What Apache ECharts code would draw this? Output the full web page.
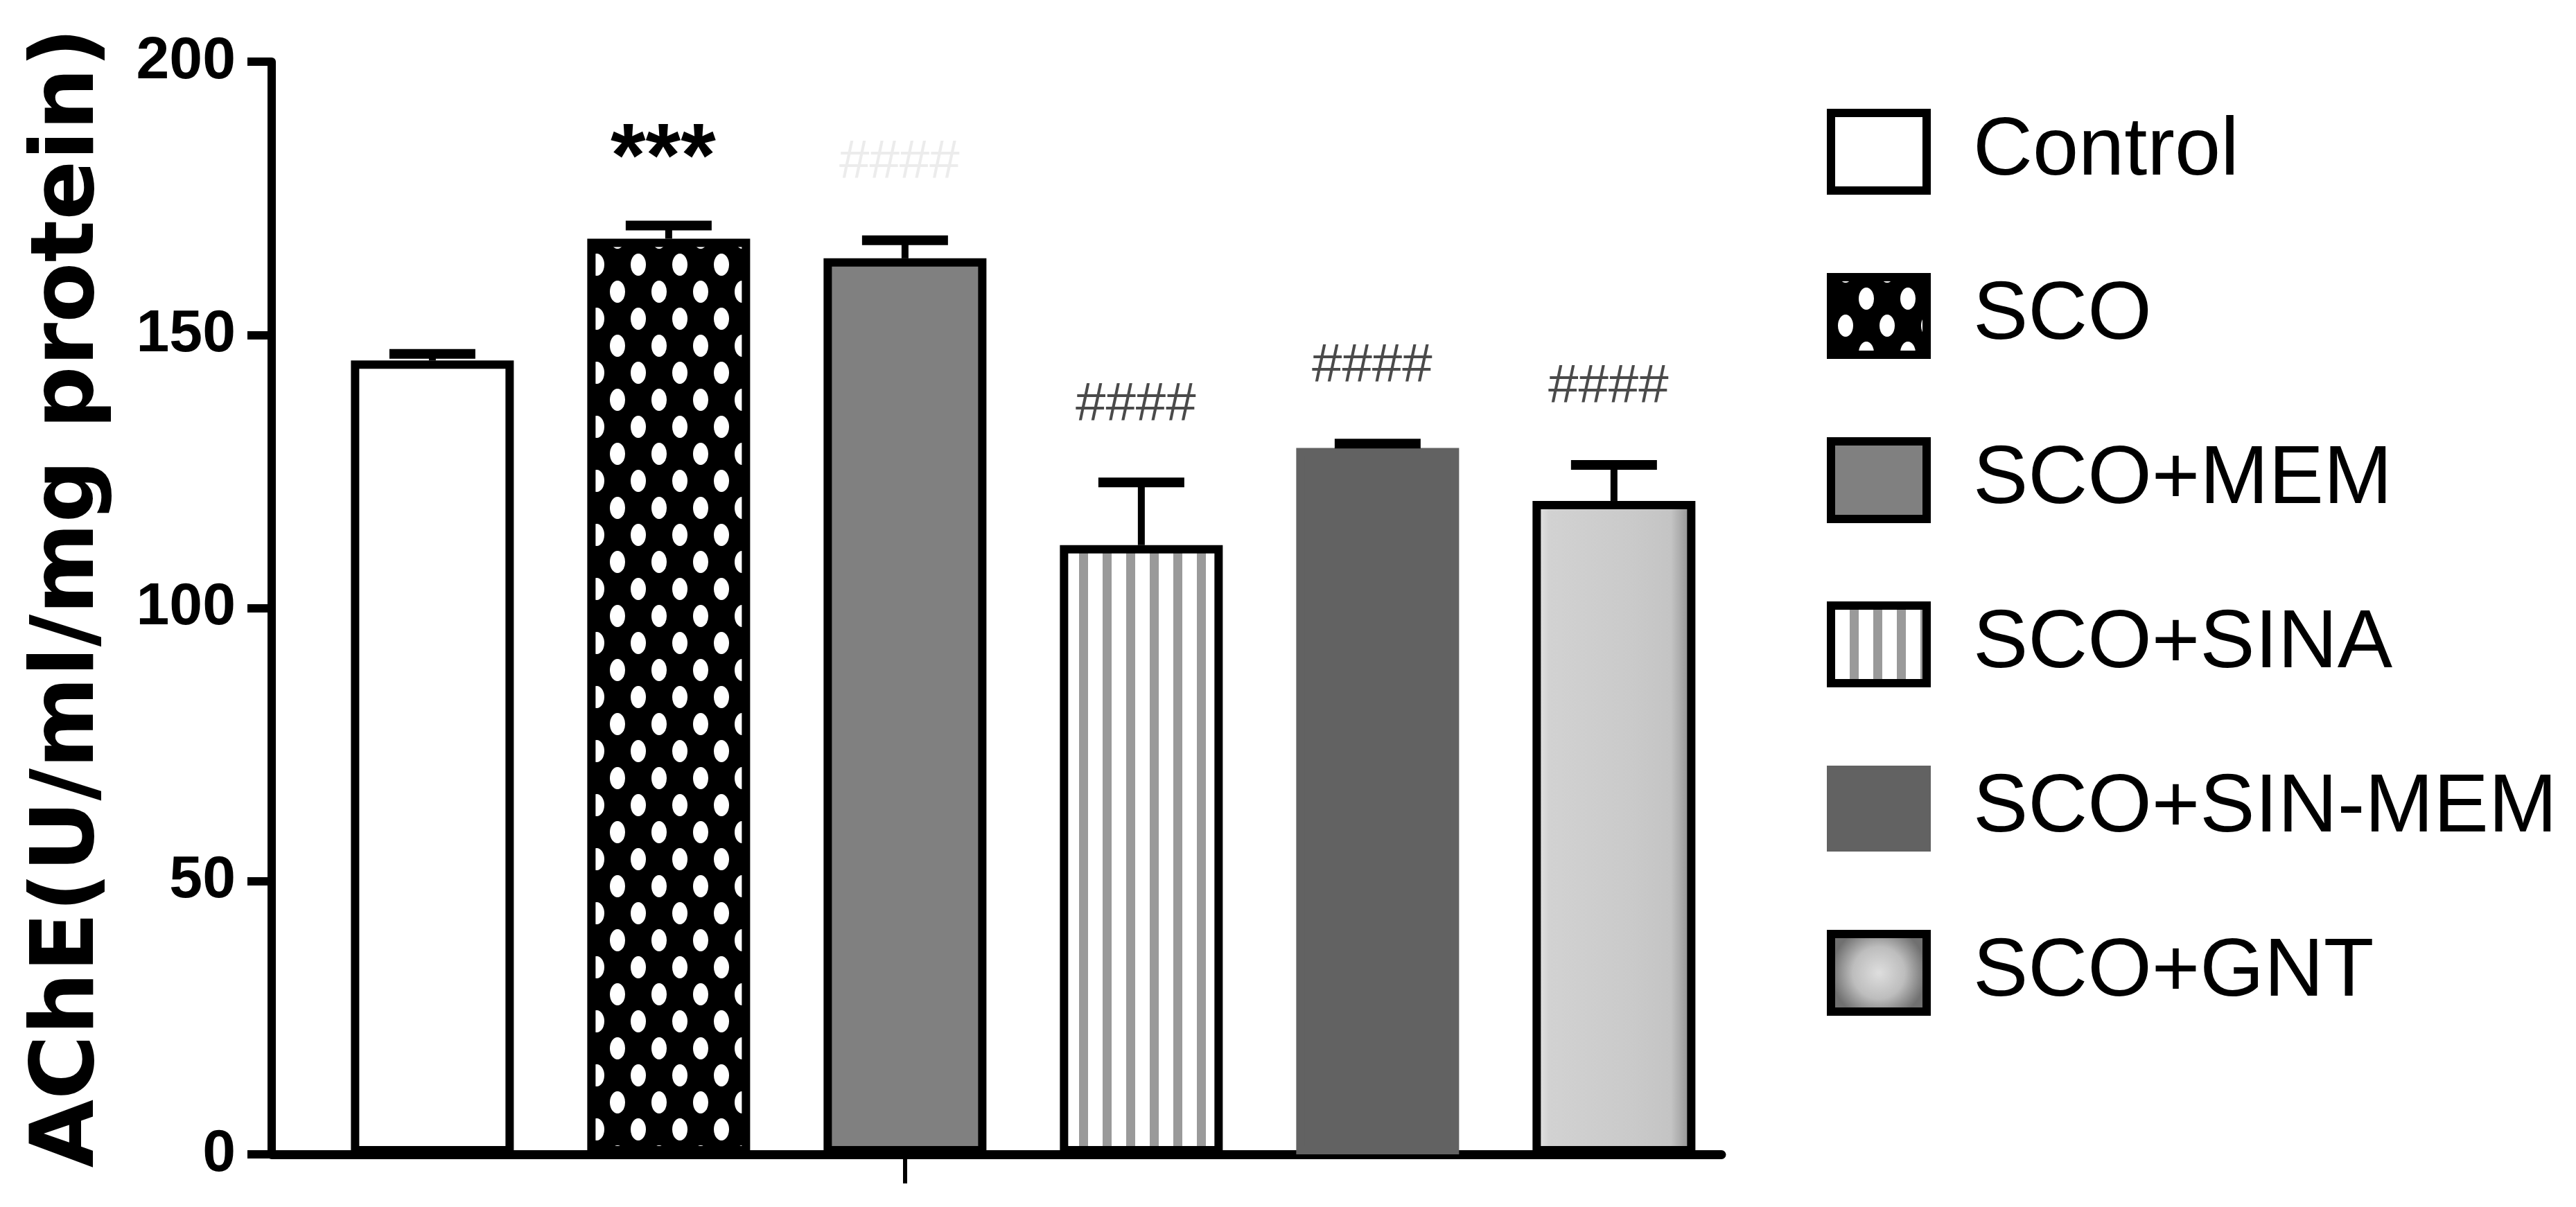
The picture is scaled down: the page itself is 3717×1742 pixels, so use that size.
<!DOCTYPE html>
<html><head><meta charset="utf-8">
<script src="https://cdn.jsdelivr.net/npm/echarts@6/dist/echarts.min.js"></script>
<style>html,body{margin:0;padding:0;background:#fff}#c{width:3717px;height:1742px}</style>
</head><body><div id="c"></div>
<script>
// ---- data ----
const categories = ['Control', 'SCO', 'SCO+MEM', 'SCO+SINA', 'SCO+SIN-MEM', 'SCO+GNT'];
const meanValues = [145.3, 167.6, 164.0, 111.5, 129.3, 119.6];
const semValues = [1.2, 2.4, 3.3, 11.5, 0.8, 6.6];
const sigLabels = ['', '***', '####', '####', '####', '####'];
const yTickValues = [0, 50, 100, 150, 200];

// ---- font detection ----
function hasFont(name) {
  const c = document.createElement('canvas').getContext('2d');
  const s = 'SCO+SINA mmmwwwiii 0123';
  c.font = '72px monospace'; const a = c.measureText(s).width;
  c.font = '72px "' + name + '", monospace'; const b = c.measureText(s).width;
  return Math.abs(a - b) > 0.5;
}
const narrow = hasFont('Liberation Sans Narrow');
const NF = narrow ? '"Liberation Sans Narrow", "Liberation Sans", Arial, sans-serif' : '"Liberation Sans", Arial, sans-serif';
const legendFont = narrow ? 142 : 119;
const tickFont = narrow ? 102 : 86;
const hashFont = narrow ? 92 : 78;

// ---- patterns ----
function dotPattern() {
  const w = 60, h = 78, cv = document.createElement('canvas');
  cv.width = w; cv.height = h;
  const g = cv.getContext('2d');
  g.fillStyle = '#000'; g.fillRect(0, 0, w, h);
  g.fillStyle = '#fff';
  const pts = [[21, 70], [51, 31]];
  pts.forEach(p => {
    for (let dx = -w; dx <= w; dx += w) for (let dy = -h; dy <= h; dy += h) {
      g.beginPath(); g.ellipse(p[0] + dx, p[1] + dy, 11, 16, 0, 0, Math.PI * 2); g.fill();
    }
  });
  return cv;
}
function stripePattern() {
  const w = 34, h = 8, cv = document.createElement('canvas');
  cv.width = w; cv.height = h;
  const g = cv.getContext('2d');
  g.fillStyle = '#fff'; g.fillRect(0, 0, w, h);
  g.fillStyle = '#9a9a9a';
  g.fillRect(27, 0, 13, h); g.fillRect(27 - w, 0, 13, h);
  return cv;
}

const barStyles = [
  { color: '#ffffff', borderColor: '#000', borderWidth: 12 },
  { color: { image: dotPattern(), repeat: 'repeat' }, borderColor: '#000', borderWidth: 12 },
  { color: '#808080', borderColor: '#000', borderWidth: 12 },
  { color: { image: stripePattern(), repeat: 'repeat' }, borderColor: '#000', borderWidth: 12 },
  { color: '#626262', borderColor: '#626262', borderWidth: 12 },
  { color: { type: 'linear', x: 0, y: 0, x2: 1, y2: 0, colorStops: [
      { offset: 0, color: '#ececec' }, { offset: 0.1, color: '#d2d2d2' },
      { offset: 0.6, color: '#cacaca' }, { offset: 0.85, color: '#c4c4c4' }, { offset: 1, color: '#858585' }] },
    borderColor: '#000', borderWidth: 12 }
];
const legendStyles = barStyles.map(s => Object.assign({}, s));
legendStyles[5] = { color: { type: 'radial', x: 0.5, y: 0.5, r: 0.55, colorStops: [
  { offset: 0, color: '#dedede' }, { offset: 0.55, color: '#bdbdbd' }, { offset: 1, color: '#707070' }] },
  borderColor: '#000', borderWidth: 12 };
const sigColors = ['#000', '#000', '#ececec', '#4a4a4a', '#4a4a4a', '#4a4a4a'];

const barSeries = categories.map((name, i) => ({
  type: 'bar', name: name, barWidth: 235, barGap: '-100%',
  data: [[i, meanValues[i]]],
  itemStyle: barStyles[i], z: 2, silent: true
}));

const errSeries = {
  type: 'custom', name: 'err', z: 5, silent: true,
  data: categories.map((c, i) => [i, meanValues[i], semValues[i]]),
  renderItem: function (params, api) {
    const i = params.dataIndex;
    const x = api.value(0), m = api.value(1), s = api.value(2);
    const base = api.coord([x, m]);
    const top = api.coord([x, m + s]);
    const children = [
      { type: 'line', shape: { x1: base[0], y1: base[1], x2: top[0], y2: top[1] }, style: { stroke: '#000', lineWidth: 10 } },
      { type: 'line', shape: { x1: top[0] - 62, y1: top[1], x2: top[0] + 62, y2: top[1] }, style: { stroke: '#000', lineWidth: 14 } }
    ];
    const lab = sigLabels[i];
    if (lab) {
      const isStar = lab.indexOf('*') >= 0;
      children.push({
        type: 'text',
        style: {
          x: top[0] - 8, y: top[1] - (isStar ? 92 : 111), text: lab,
          fill: sigColors[i], align: 'center', verticalAlign: 'middle',
          font: isStar ? 'bold 130px "Liberation Sans", Arial, sans-serif' : (hashFont + 'px ' + NF)
        }
      });
    }
    return { type: 'group', children: children };
  }
};

const chart = echarts.init(document.getElementById('c'), null, { renderer: 'canvas' });
chart.setOption({
  animation: false,
  backgroundColor: '#fff',
  grid: { left: 392, right: 1233, top: 89, bottom: 76, containLabel: false },
  xAxis: {
    type: 'value', min: -0.68, max: 5.455,
    axisLine: { show: true, onZero: false, lineStyle: { color: '#000', width: 13 } },
    axisTick: { show: true, customValues: [2], length: 42, lineStyle: { color: '#000', width: 6 } },
    axisLabel: { show: false }, splitLine: { show: false }
  },
  yAxis: {
    type: 'value', min: yTickValues[0], max: yTickValues[yTickValues.length - 1],
    interval: yTickValues[1] - yTickValues[0],
    name: 'AChE(U/ml/mg protein)', nameLocation: 'middle', nameGap: 227,
    nameTextStyle: { fontFamily: '"DejaVu Sans", sans-serif', fontWeight: 'bold', fontSize: 127, color: '#000', padding: [0, 0, 0, 30] },
    axisLine: { show: true, onZero: false, lineStyle: { color: '#000', width: 12 } },
    axisTick: { show: true, length: 35, lineStyle: { color: '#000', width: 12 } },
    axisLabel: { margin: 52, fontFamily: NF, fontWeight: 'bold', fontSize: tickFont, color: '#000' },
    splitLine: { show: false }
  },
  legend: {
    orient: 'vertical', left: 2631, top: 152,
    itemWidth: 138, itemHeight: 112, itemGap: 113,
    selectedMode: false,
    textStyle: { fontFamily: NF, fontSize: legendFont, lineHeight: 112, color: '#000', padding: [0, 0, 0, 62] },
    data: categories.map((name, i) => ({ name: name, icon: 'rect', itemStyle: legendStyles[i] }))
  },
  series: barSeries.concat([errSeries])
});
</script></body></html>
